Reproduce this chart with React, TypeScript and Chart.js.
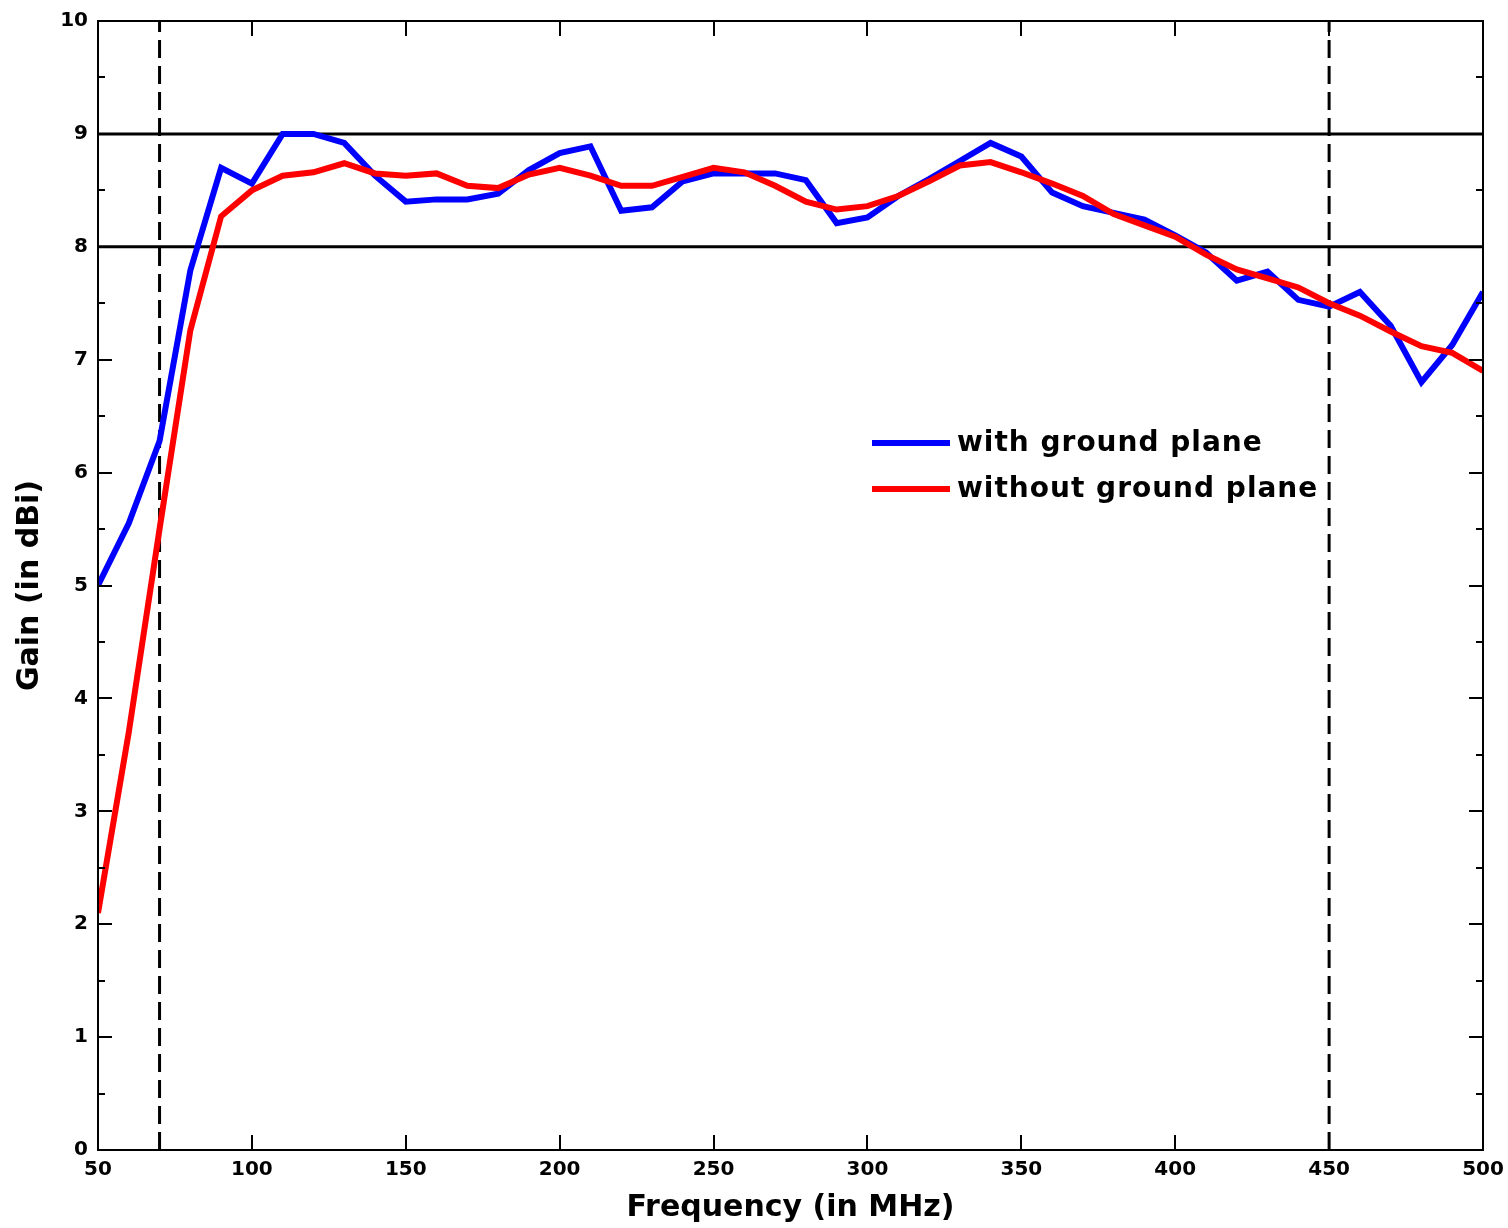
import React, { useEffect, useRef } from "react";
import { Chart, registerables } from "chart.js";

Chart.register(...registerables);

const frequencies = [
  50, 60, 70, 80, 90, 100, 110, 120, 130, 140, 150, 160, 170, 180, 190, 200,
  210, 220, 230, 240, 250, 260, 270, 280, 290, 300, 310, 320, 330, 340, 350,
  360, 370, 380, 390, 400, 410, 420, 430, 440, 450, 460, 470, 480, 490, 500,
];

const withGroundPlane = [
  5.0, 5.55, 6.28, 7.79, 8.7, 8.56, 9.0, 9.0, 8.92, 8.63, 8.4, 8.42, 8.42,
  8.47, 8.68, 8.83, 8.89, 8.32, 8.35, 8.58, 8.65, 8.65, 8.65, 8.59, 8.21,
  8.26, 8.45, 8.6, 8.76, 8.92, 8.8, 8.48, 8.36, 8.3, 8.24, 8.1, 7.95, 7.7,
  7.78, 7.53, 7.47, 7.6, 7.3, 6.8, 7.13, 7.6,
];

const withoutGroundPlane = [
  2.1, 3.7, 5.5, 7.26, 8.27, 8.5, 8.63, 8.66, 8.74, 8.65, 8.63, 8.65, 8.54,
  8.52, 8.64, 8.7, 8.63, 8.54, 8.54, 8.62, 8.7, 8.66, 8.54, 8.4, 8.33, 8.36,
  8.45, 8.58, 8.72, 8.75, 8.66, 8.56, 8.45, 8.29, 8.19, 8.09, 7.93, 7.8,
  7.72, 7.64, 7.5, 7.39, 7.25, 7.12, 7.06, 6.9,
];

const gainLevels = [8, 9];
const bandEdges = [70, 450];
const xRange = [50, 500];
const yRange = [0, 10];
const xStep = 50;
const yStep = 1;

const seriesLabels = ["with ground plane", "without ground plane"];
const seriesColors = ["rgb(0,0,255)", "rgb(255,0,0)"];

const FONT = "'DejaVu Sans', sans-serif";

const framePlugin = {
  id: "frame",
  afterDraw(chart: any) {
    const { ctx, chartArea, scales } = chart;
    const { left, right, top, bottom } = chartArea;
    const x = scales.x;
    const y = scales.y;
    ctx.save();
    ctx.strokeStyle = "#000";
    ctx.lineWidth = 2;
    ctx.strokeRect(left, top, right - left, bottom - top);
    ctx.beginPath();
    for (let v = yRange[0]; v <= yRange[1] + 1e-9; v += yStep / 2) {
      const py = Math.round(y.getPixelForValue(v));
      const len = Math.abs(v - Math.round(v)) < 1e-9 ? 14 : 7;
      ctx.moveTo(left, py);
      ctx.lineTo(left + len, py);
      ctx.moveTo(right, py);
      ctx.lineTo(right - len, py);
    }
    for (let v = xRange[0]; v <= xRange[1] + 1e-9; v += xStep) {
      const px = Math.round(x.getPixelForValue(v));
      ctx.moveTo(px, bottom);
      ctx.lineTo(px, bottom - 15);
      ctx.moveTo(px, top);
      ctx.lineTo(px, top + 15);
    }
    ctx.stroke();

    // legend
    const lx = left + 774;
    const ly = top + 422;
    const gap = 46;
    ctx.font = `bold 28px ${FONT}`;
    (ctx as any).letterSpacing = "1px";
    ctx.textBaseline = "middle";
    ctx.textAlign = "left";
    ctx.fillStyle = "#000";
    seriesLabels.forEach((label, i) => {
      const yy = ly + i * gap;
      ctx.strokeStyle = seriesColors[i];
      ctx.lineWidth = 6;
      ctx.beginPath();
      ctx.moveTo(lx, yy);
      ctx.lineTo(lx + 78, yy);
      ctx.stroke();
      ctx.fillText(label, lx + 85, yy + 1);
    });
    ctx.restore();
  },
};

export default function App() {
  const ref = useRef<HTMLCanvasElement | null>(null);

  useEffect(() => {
    if (!ref.current) return;
    const refSets: any[] = [];
    gainLevels.forEach((g) => {
      refSets.push({
        label: `level ${g}`,
        data: [
          { x: xRange[0], y: g },
          { x: xRange[1], y: g },
        ],
        borderColor: "#000",
        borderWidth: 3,
        pointRadius: 0,
        order: 4,
      });
    });
    bandEdges.forEach((f) => {
      refSets.push({
        label: `edge ${f}`,
        data: [
          { x: f, y: yRange[0] },
          { x: f, y: yRange[1] },
        ],
        borderColor: "#000",
        borderWidth: 3,
        borderDash: [18, 8],
        pointRadius: 0,
        order: 3,
      });
    });

    const chart = new Chart(ref.current, {
      type: "line",
      data: {
        datasets: [
          {
            label: seriesLabels[0],
            data: frequencies.map((f, i) => ({ x: f, y: withGroundPlane[i] })),
            borderColor: seriesColors[0],
            borderWidth: 6,
            pointRadius: 0,
            tension: 0,
            order: 2,
          },
          {
            label: seriesLabels[1],
            data: frequencies.map((f, i) => ({ x: f, y: withoutGroundPlane[i] })),
            borderColor: seriesColors[1],
            borderWidth: 6,
            pointRadius: 0,
            tension: 0,
            order: 1,
          },
          ...refSets,
        ],
      },
      options: {
        responsive: false,
        animation: false,
        layout: { padding: { top: 21, right: 25, left: 0, bottom: 0 } },
        plugins: {
          legend: { display: false },
          tooltip: { enabled: false },
        },
        scales: {
          x: {
            type: "linear",
            min: xRange[0],
            max: xRange[1],
            grid: { display: false, drawTicks: false },
            border: { display: false },
            ticks: {
              stepSize: xStep,
              color: "#000",
              padding: 8,
              maxRotation: 0,
              font: { family: FONT, size: 20, weight: "bold" },
            },
            title: {
              display: true,
              text: "Frequency (in MHz)",
              color: "#000",
              font: { family: FONT, size: 30, weight: "bold" },
              padding: { top: 0, bottom: 2 },
            },
            afterFit: (s: any) => {
              s.height = 78;
              s.paddingLeft = 0;
              s.paddingRight = 0;
            },
          },
          y: {
            min: yRange[0],
            max: yRange[1],
            grid: { display: false, drawTicks: false },
            border: { display: false },
            ticks: {
              stepSize: yStep,
              color: "#000",
              padding: 10,
              font: { family: FONT, size: 20, weight: "bold" },
            },
            title: {
              display: true,
              text: "Gain (in dBi)",
              color: "#000",
              font: { family: FONT, size: 30, weight: "bold" },
              padding: { top: 12, bottom: 0 },
            },
            afterFit: (s: any) => {
              s.width = 98;
              s.paddingTop = 0;
              s.paddingBottom = 0;
            },
          },
        },
      },
      plugins: [framePlugin],
    });
    return () => chart.destroy();
  }, []);

  return (
    <div
      style={{
        position: "fixed",
        left: 0,
        top: 0,
        width: 1508,
        height: 1228,
        background: "#fff",
      }}
    >
      <canvas ref={ref} width={1508} height={1228} />
    </div>
  );
}
